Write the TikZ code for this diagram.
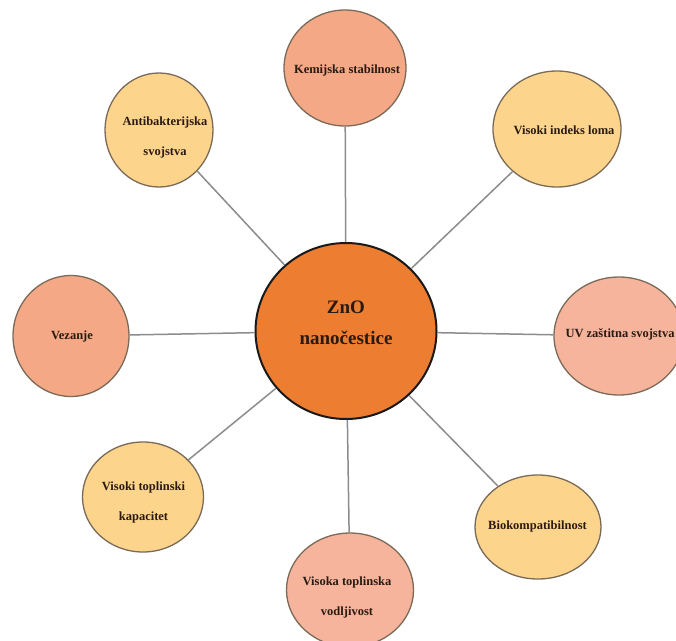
\documentclass[tikz,border=0pt]{standalone}
\usepackage{fontspec}
\setmainfont{Liberation Serif}
\usetikzlibrary{shapes.geometric}
\definecolor{zno}{HTML}{ED7D31}
\definecolor{salmon}{HTML}{F4A886}
\definecolor{salmonlt}{HTML}{F6B49C}
\definecolor{yel}{HTML}{FCD48C}
\definecolor{rim}{HTML}{7A6A58}
\definecolor{conn}{HTML}{8C8C8C}
\definecolor{ink}{HTML}{2A1A10}
\begin{document}
\begin{tikzpicture}[x=1pt,y=-1pt,
 bubble/.style={ellipse, draw=rim, line width=1.3pt, inner sep=0pt},
 hub/.style={ellipse, draw=black!90, line width=2pt, fill=zno, inner sep=0pt, minimum width=181pt, minimum height=176pt},
 lbl/.style={font=\bfseries\fontsize{12.5}{30}\selectfont, text=ink, align=center, inner sep=0pt},
 hublbl/.style={font=\bfseries\fontsize{19}{31}\selectfont, text=ink, align=center, inner sep=0pt},
 link/.style={draw=conn, line width=1.5pt}]
\useasboundingbox (0,0) rectangle (676,640);
\clip (0,0) rectangle (676,640);
\fill[white] (0,0) rectangle (676,640);
% hub
\node[hub] (c) at (346,331) {};
% outer bubbles
\node[bubble, fill=salmon, minimum width=122pt, minimum height=116pt] (kem) at (345,68) {};
\node[bubble, fill=yel, minimum width=108pt, minimum height=114pt] (anti) at (159,130) {};
\node[bubble, fill=yel, minimum width=128pt, minimum height=116pt] (vis) at (557,129) {};
\node[bubble, fill=salmonlt, minimum width=130pt, minimum height=118pt] (uv) at (619,336) {};
\node[bubble, fill=salmon, minimum width=116pt, minimum height=121pt] (vez) at (71,336) {};
\node[bubble, fill=yel, minimum width=121pt, minimum height=110pt] (kap) at (143,497) {};
\node[bubble, fill=yel, minimum width=126pt, minimum height=104pt] (bio) at (538,527) {};
\node[bubble, fill=salmonlt, minimum width=127pt, minimum height=114pt] (vod) at (350,590) {};
% connectors
\draw[link] (c) -- (kem);
\draw[link] (c) -- (anti);
\draw[link] (c) -- (vis);
\draw[link] (c) -- (uv);
\draw[link] (c) -- (vez);
\draw[link] (c) -- (kap);
\draw[link] (c) -- (bio);
\draw[link] (c) -- (vod);
% texts
\node[hublbl] (ct) at (346,323) {ZnO\\nanočestice};
\node[lbl] (kemt) at (347,70) {Kemijska stabilnost};
\node[lbl] (antit) at (165,137) {Antibakterijska\\svojstva};
\node[lbl] (vist) at (564,130) {Visoki indeks loma};
\node[lbl] (uvt) at (620,334) {UV zaštitna svojstva};
\node[lbl] (vezt) at (72,336) {Vezanje};
\node[lbl] (kapt) at (143.5,502) {Visoki toplinski\\kapacitet};
\node[lbl] (biot) at (537.5,526) {Biokompatibilnost};
\node[lbl] (vodt) at (347,597) {Visoka toplinska\\vodljivost};
\end{tikzpicture}
\end{document}
